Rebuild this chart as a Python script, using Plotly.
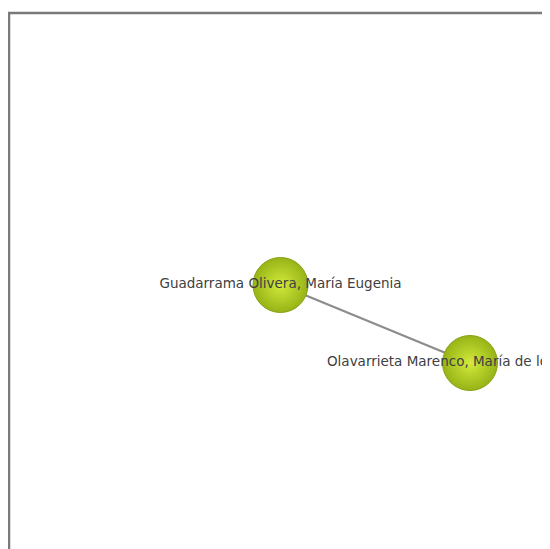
import plotly.graph_objects as go

# Network data
node_names = ["Guadarrama Olivera, María Eugenia", "Olavarrieta Marenco, María de los Ángeles"]
node_x = [280.5, 470]
node_y = [285, 363]
edges = [(0, 1)]

fig = go.Figure()

# frame
fig.add_shape(type="rect", x0=9, y0=13, x1=600, y1=600, xref="x", yref="y",
              line=dict(color="#7a7a7a", width=2.5), fillcolor="rgba(0,0,0,0)", layer="below")

for a, b in edges:
    fig.add_trace(go.Scatter(x=[node_x[a], node_x[b]], y=[node_y[a], node_y[b]], mode="lines",
                             line=dict(color="#8c8c8c", width=2.2), hoverinfo="skip", showlegend=False))

fig.add_trace(go.Scatter(
    x=node_x, y=node_y, mode="markers+text", text=node_names,
    textposition="middle center",
    textfont=dict(family="DejaVu Sans", size=13.5, color="#404040"),
    marker=dict(size=55, color="#96b416",
                gradient=dict(type="radial", color="#d4ea3c"),
                line=dict(color="#86a214", width=1)),
    cliponaxis=False, showlegend=False, hoverinfo="text"))

# body has an 8px default margin in the written page; shift axes so data units equal reference pixels
fig.update_layout(
    width=542, height=541, margin=dict(l=0, r=0, t=0, b=0),
    paper_bgcolor="white", plot_bgcolor="white",
    xaxis=dict(range=[8, 550], visible=False, fixedrange=True),
    yaxis=dict(range=[549, 8], visible=False, fixedrange=True),
)

fig.write_html("out.html")
